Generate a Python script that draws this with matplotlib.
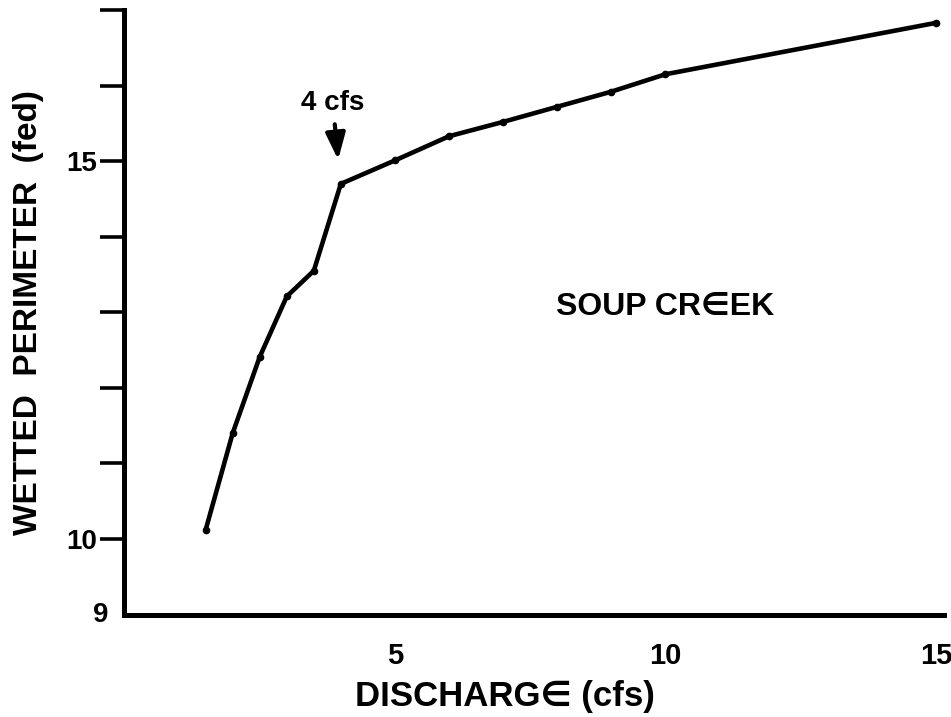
import matplotlib
matplotlib.use("Agg")
import matplotlib.pyplot as plt

plt.rcParams['font.family'] = ['Liberation Sans', 'DejaVu Sans']
plt.rcParams['font.weight'] = 'bold'

# Data
discharge = [1.5, 2.0, 2.5, 3.0, 3.5, 4.0, 5.0, 6.0, 7.0, 8.0, 9.0, 10.0, 15.0]
perimeter = [10.12, 11.40, 12.41, 13.21, 13.55, 14.70, 15.01, 15.33, 15.52, 15.72, 15.92, 16.15, 16.83]

x_ticks = [5, 10, 15]
x_tick_labels = ["5", "10", "15"]
y_ticks = [10, 11, 12, 13, 14, 15, 16, 17]
y_tick_labels = ["10", "", "", "", "", "15", "", ""]

x_label = "DISCHARG\u2208 (cfs)"
y_label = "WETTED  PERIMETER  (fed)"
site_label = "SOUP CR\u2208EK"
annot_text = "4 cfs"
annot_x, annot_y = 3.95, 15.02

fig = plt.figure(figsize=(9.51, 7.17), dpi=100)
ax = fig.add_axes([0.1309, 0.1428, 0.8617, 0.8432])

ax.plot(discharge, perimeter, color='black', lw=3.3, marker='o', ms=4.5,
        solid_joinstyle='round', solid_capstyle='round')

ax.set_xlim(0, 15.15)
ax.set_ylim(9, 17)

for s in ['top', 'right']:
    ax.spines[s].set_visible(False)
for s in ['left', 'bottom']:
    ax.spines[s].set_linewidth(3.6)
    ax.spines[s].set_capstyle('projecting')

ax.set_xticks(x_ticks)
ax.set_xticklabels(x_tick_labels, fontsize=21, fontweight='bold')
ax.tick_params(axis='x', length=0, pad=20)

ax.set_yticks(y_ticks)
ax.set_yticklabels(y_tick_labels, fontsize=20, fontweight='bold')
ax.tick_params(axis='y', direction='out', length=17, width=2.6, pad=3)

ax.text(-0.3, 9, "9", ha='right', va='center', fontsize=20, fontweight='bold',
        clip_on=False)

ax.set_xlabel(x_label, fontsize=25, fontweight='bold')
ax.xaxis.set_label_coords(0.464, -0.136)
ax.xaxis.label.set_va('center')
ax.set_ylabel(y_label, fontsize=24, fontweight='bold', labelpad=16)

ax.text(10.0, 13.07, site_label, ha='center', va='center', fontsize=23,
        fontweight='bold')

ax.annotate(annot_text, xy=(annot_x, annot_y), xytext=(3.85, 15.77),
            ha='center', va='center', fontsize=20, fontweight='bold',
            arrowprops=dict(arrowstyle='-|>,head_length=0.8,head_width=0.3',
                            color='black', lw=3, shrinkA=4, shrinkB=0))

fig.savefig("out.png", dpi=100, facecolor='white')
